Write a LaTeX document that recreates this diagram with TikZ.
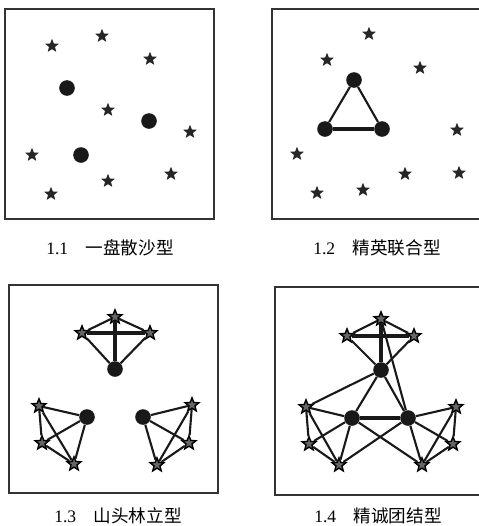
\documentclass[tikz,border=0pt]{standalone}
\usepackage{fontspec}
\setmainfont{Liberation Serif}
\newfontfamily\cjk{Noto Sans CJK SC}
\usetikzlibrary{shapes.geometric}

\begin{document}
\begin{tikzpicture}[
  x=0.025cm, y=-0.025cm,
  frame/.style={draw=black!80, line width=1.1pt},
  agent/.style={star, star points=5, star point ratio=2.3, fill=black!85, inner sep=0pt, minimum size=0.36cm},
  member/.style={agent, draw=black, line width=1pt, fill=black!60},
  core/.style={circle, fill=black!90, inner sep=0pt, minimum size=0.39cm},
  link/.style={line width=1.5pt, black!90},
  bond/.style={line width=2.8pt, black!90},
  caption/.style={font=\fontsize{12.5}{14}\selectfont}
]
\useasboundingbox (0,0) rectangle (479,526);

% frames
\draw[frame] (5,9) rectangle (214,219);
\draw[frame] (272,9) rectangle (495,219);
\draw[frame] (9,285) rectangle (218,493);
\draw[frame] (275,287) rectangle (495,495);

% 1.1
\foreach \n/\x/\y in {1/52/46, 2/102/36, 3/150/59, 4/108/110, 5/190/132,
                      6/32/155, 7/51/194, 8/108/181, 9/171/174}
  \node[agent] (p\n) at (\x,\y) {};
\node[core] (pa) at (67,88) {};
\node[core] (pb) at (149,121) {};
\node[core] (pc) at (81,155) {};
\node[caption] (cap1) at (110,248) {1.1\quad{\cjk 一盘散沙型}};

% 1.2
\foreach \n/\x/\y in {1/369/34, 2/327/60, 3/420/68, 4/457/130, 5/297/154,
                      6/317/193, 7/363/190, 8/405/174, 9/459/173}
  \node[agent] (q\n) at (\x,\y) {};
\node[core] (qa) at (354,80) {};
\node[core] (qb) at (325,129) {};
\node[core] (qc) at (382,129) {};
\draw[link] (qa) -- (qb);
\draw[link] (qa) -- (qc);
\draw[bond] (qb) -- (qc);
\node[caption] (cap2) at (377,248) {1.2\quad{\cjk 精英联合型}};

% 1.3
\node[member] (rt) at (115,317) {};
\node[member] (rl) at (82,333) {};
\node[member] (rr) at (150,333) {};
\node[core] (ra) at (115,369) {};
\node[core] (rb) at (87,417) {};
\node[member] (rb1) at (39,406) {};
\node[member] (rb2) at (42,443) {};
\node[member] (rb3) at (74,464) {};
\node[core] (rc) at (143,417) {};
\node[member] (rc1) at (192,405) {};
\node[member] (rc2) at (189,443) {};
\node[member] (rc3) at (157,465) {};
\draw[bond] (rl) -- (rr);
\draw[bond] (rt) -- (ra);
\foreach \a/\b in {rt/rl, rt/rr, rl/ra, rr/ra,
                   rb1/rb, rb1/rb2, rb1/rb3, rb2/rb, rb2/rb3, rb3/rb,
                   rc1/rc, rc1/rc2, rc1/rc3, rc2/rc, rc2/rc3, rc3/rc}
  \draw[link] (\a) -- (\b);
\node[caption] (cap3) at (118,516) {1.3\quad{\cjk 山头林立型}};

% 1.4
\node[member] (st) at (381,319) {};
\node[member] (sl) at (347,336) {};
\node[member] (sr) at (414,336) {};
\node[core] (s0) at (381,370) {};
\node[core] (sdl) at (352,418) {};
\node[core] (sdr) at (408,418) {};
\node[member] (sa) at (306,407) {};
\node[member] (sb) at (309,444) {};
\node[member] (sc) at (339,465) {};
\node[member] (se) at (456,407) {};
\node[member] (sf) at (453,444) {};
\node[member] (sg) at (422,465) {};
\draw[bond] (sl) -- (sr);
\draw[bond] (st) -- (s0);
\draw[bond] (sdl) -- (sdr);
\foreach \a/\b in {st/sl, st/sr, sl/s0, sr/s0, st/sdr, s0/sa, s0/sdl, s0/sdr,
                   sa/sdl, sa/sb, sa/sc, sb/sdl, sb/sc, sc/sdl,
                   se/sdr, se/sf, se/sg, sf/sdr, sf/sg, sg/sdr,
                   sdl/sg, sdr/sc}
  \draw[link] (\a) -- (\b);
\node[caption] (cap4) at (378,516) {1.4\quad{\cjk 精诚团结型}};

\end{tikzpicture}
\end{document}
